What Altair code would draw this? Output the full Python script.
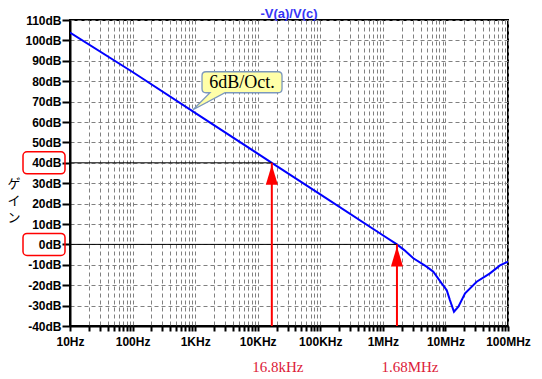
import altair as alt
import pandas as pd

# ---- data ----
freq_hz = [10, 100, 1000, 10000, 16800, 100000, 1000000, 1680000, 2200000, 3070000,
           5000000, 6400000, 8700000, 10500000, 11800000, 13700000, 16100000,
           20600000, 31600000, 51500000, 74500000, 100000000]
gain_db = [103.8, 84.5, 64.5, 44.5, 40.0, 24.5, 4.5, 0.0, -2.8, -6.8,
           -10.9, -13.4, -19.1, -22.4, -27.3, -33.0, -30.5,
           -24.0, -18.3, -14.2, -10.3, -8.5]

y_ticks = list(range(-40, 111, 10))
x_decades = [10, 100, 1000, 10000, 100000, 1000000, 10000000, 100000000]
x_labels = ["10Hz", "100Hz", "1KHz", "10KHz", "100KHz", "1MHz", "10MHz", "100MHz"]

marker_freqs = [16800, 1680000]
marker_gains = [40, 0]
marker_labels = ["16.8kHz", "1.68MHz"]
marker_label_dx = [6, 13]

title_text = "-V(a)/V(c)"
axis_title = "ゲイン"
callout_text = "6dB/Oct."
callout_freq = [925]
callout_gain = [66]

W, H = 438, 306
Y_MIN, Y_MAX = -40, 110

minor_values = [m * 10 ** k for k in range(1, 8) for m in range(1, 10)] + [100000000]

label_expr = "''"
for v, lab in reversed(list(zip(x_decades, x_labels))):
    label_expr = f"datum.value == {v} ? '{lab}' : ({label_expr})"

xs = alt.Scale(type="log", domain=[10, 100000000], nice=False)
ys = alt.Scale(domain=[Y_MIN, Y_MAX], nice=False, zero=False)
x_axis = alt.Axis(values=minor_values, labelExpr=label_expr, tickSize=5, labelPadding=5,
                  labelOverlap=False, labelFlush=False, grid=True, title=None)
y_axis = alt.Axis(values=y_ticks, labelExpr="datum.value + 'dB'", tickSize=8,
                  labelPadding=1, grid=True, title=None)


def X(field):
    return alt.X(field, scale=xs, axis=x_axis)


def Y(field):
    return alt.Y(field, scale=ys, axis=y_axis)


curve_df = pd.DataFrame({"f": freq_hz, "g": gain_db})
mk_df = pd.DataFrame({"f": marker_freqs, "g": marker_gains, "lab": marker_labels,
                      "f0": [x_decades[0]] * len(marker_freqs),
                      "floor": [Y_MIN] * len(marker_freqs)})

curve = alt.Chart(curve_df).mark_line(color="#0000ff", strokeWidth=2, clip=True).encode(
    x=X("f:Q"), y=Y("g:Q"))

ref_lines = alt.Chart(mk_df).mark_rule(color="black", strokeWidth=1).encode(
    x=X("f0:Q"), x2="f:Q", y=Y("g:Q"))

shafts = alt.Chart(mk_df).mark_rule(color="#ff0000", strokeWidth=2).encode(
    x=X("f:Q"), y=Y("g:Q"), y2="floor:Q")

heads = alt.Chart(mk_df).mark_point(shape="M0,0L0.3,1L-0.3,1Z", size=1600, filled=True,
                                    color="#ff0000", opacity=1, strokeWidth=0,
                                    yOffset=2).encode(x=X("f:Q"), y=Y("g:Q"))

label_layers = []
for i in range(len(marker_labels)):
    label_layers.append(
        alt.Chart(mk_df.iloc[[i]]).mark_text(font="Liberation Serif", fontSize=15,
                                             color="#dc2038", dx=marker_label_dx[i],
                                             baseline="middle").encode(
            x=X("f:Q"), y=alt.value(H + 41), text="lab:N")
    )

boxes = alt.Chart(mk_df).mark_rect(cornerRadius=4, fillOpacity=0, stroke="#ff0000",
                                   strokeWidth=1.5, yOffset=-11, y2Offset=11).encode(
    x=alt.value(-47), x2=alt.value(-5), y=Y("g:Q"), y2="g:Q")

callout_df = pd.DataFrame({"f": callout_freq, "g": callout_gain, "t": [callout_text]})
callout_path = ("M0,0 L0.32,-0.17 L0.85,-0.17 Q0.89,-0.17 0.89,-0.21 L0.89,-0.34 "
                "Q0.89,-0.38 0.85,-0.38 L0.13,-0.38 Q0.09,-0.38 0.09,-0.34 L0.09,-0.21 "
                "Q0.09,-0.17 0.13,-0.17 L0.17,-0.17 Z")
callout_box = alt.Chart(callout_df).mark_point(shape=callout_path, size=40000, filled=True,
                                               fill="#ffffa8", stroke="#7b97bd",
                                               strokeWidth=1.3, opacity=1,
                                               fillOpacity=1, strokeOpacity=1).encode(
    x=X("f:Q"), y=Y("g:Q"))
callout_txt = alt.Chart(callout_df).mark_text(font="Liberation Serif", fontSize=18,
                                              color="black", dx=49, dy=-27,
                                              baseline="middle").encode(
    x=X("f:Q"), y=Y("g:Q"), text="t:N")

ytitle = alt.Chart(pd.DataFrame({"t": ["\n".join(axis_title)]})).mark_text(
    font="Noto Sans CJK JP", fontSize=13, lineHeight=17, lineBreak="\n",
    color="black", baseline="middle", align="center").encode(
    x=alt.value(-56), y=alt.value(164), text="t:N")

title = alt.Chart(pd.DataFrame({"t": [title_text]})).mark_text(
    font="Liberation Sans", fontSize=13, fontWeight="bold", color="#3535f5",
    baseline="middle", align="center").encode(
    x=alt.value(W / 2), y=alt.value(-6.5), text="t:N")

chart = alt.layer(curve, ref_lines, shafts, heads, *label_layers, boxes, callout_box,
                  callout_txt, ytitle, title).properties(
    width=W, height=H,
    autosize=alt.AutoSizeParams(type="none"),
    padding={"left": 62, "top": 12, "right": 26, "bottom": 52},
).configure_view(stroke="black", strokeWidth=2).configure_axis(
    domainColor="black", domainWidth=2, tickColor="black", tickWidth=2,
    labelFont="Liberation Sans", labelFontWeight="bold", labelFontSize=12,
    labelColor="black", gridColor="#808080", gridDash=[4, 3], gridWidth=1,
)

chart.save("out.html", embed_options={"renderer": "svg", "actions": False})
